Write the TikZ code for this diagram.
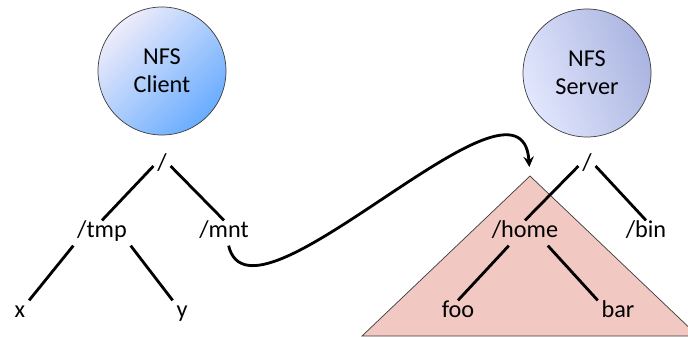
\documentclass[tikz,border=0pt]{standalone}
\usepackage{fontspec}
\setmainfont{Carlito}
\usepackage{tikz}
\usetikzlibrary{positioning}
\usetikzlibrary{arrows}
\definecolor{clientlight}{RGB}{238,236,250}
\definecolor{clientdark}{RGB}{104,172,255}
\definecolor{serverlight}{RGB}{226,231,253}
\definecolor{serverdark}{RGB}{170,180,224}
\definecolor{mountpink}{RGB}{242,200,194}
\definecolor{edgegray}{RGB}{60,60,60}

\begin{document}
\begin{tikzpicture}[
            > = stealth, % arrow head style
            on grid, % distances between centres
            node distance = 1.9cm,
            font = \fontsize{13.8}{16}\selectfont
            ]

        \tikzstyle{host}=[
            circle,
            draw = edgegray,
            thin,
            minimum size = 2.56cm,
            align = center
        ]
        \tikzstyle{dir}=[inner sep = 2pt, text height = 0.75em, text depth = 0.25em]
        \tikzstyle{branch}=[line width = 1.6pt]

        \useasboundingbox (0,0) rectangle (13.76,6.72);

	% exported subtree
        \coordinate (apex) at (10.60,3.20);
        \fill[mountpink] (apex) -- ++(-3.36,-3.20) -- ++(6.72,0) -- cycle;
        \draw[edgegray, thin] (apex) -- ++(-3.36,-3.20) -- ++(6.72,0) -- cycle;

	% client side
        \node[host, top color = clientlight, bottom color = clientdark, shading angle = 45] (client) at (3.24,5.30) {NFS\\Client};
        \node[dir] (croot) [below = of client] {/};
        \node[dir] (tmp) [below left = 1.34cm and 1.2cm of croot] {/tmp};
        \node[dir] (mnt) [below right = 1.34cm and 1.24cm of croot] {/mnt};
        \node[dir] (x) [below left = 1.6cm and 1.64cm of tmp] {x};
        \node[dir] (y) [below right = 1.6cm and 1.6cm of tmp] {y};

        \path[branch] (croot.west) edge (tmp.north);
        \path[branch] (croot.east) edge (mnt.north);
        \path[branch] (tmp.south west) edge (x.north east);
        \path[branch] (tmp.south east) edge (y.north west);

	% server side
        \node[host, top color = serverlight, bottom color = serverdark, shading angle = 110] (server) at (11.74,5.26) {NFS\\Server};
        \node[dir] (sroot) [below = 1.86cm of server] {/};
        \node[dir] (home) [below left = 1.34cm and 1.24cm of sroot] {/home};
        \node[dir] (bin) [below right = 1.34cm and 1.18cm of sroot] {/bin};
        \node[dir] (foo) [below left = 1.6cm and 1.34cm of home] {foo};
        \node[dir] (bar) [below right = 1.6cm and 1.86cm of home] {bar};

        \path[branch] (sroot.west) edge (home.north);
        \path[branch] (sroot.east) edge (bin.north);
        \path[branch] (home.218) edge (foo.north);
        \path[branch] (home.-29) edge (bar.north west);

	% mount
        \draw[branch, ->, shorten > = 0.18cm] (mnt.290) .. controls +(0.46,-1.94) and +(-0.18,2.54) .. (apex);

  \end{tikzpicture}
\end{document}
